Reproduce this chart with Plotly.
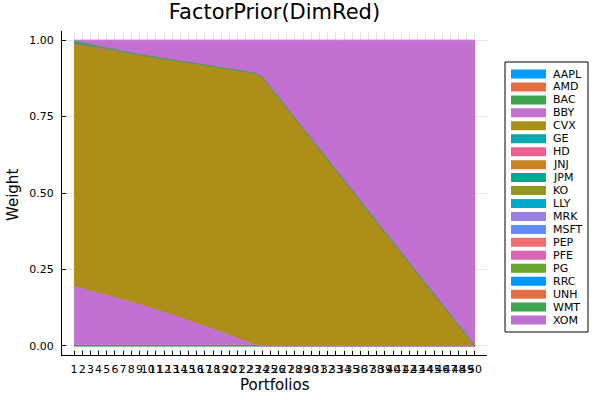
import plotly.graph_objects as go

# ---------------- data ----------------
portfolios = list(range(1, 51))
assets = ["AAPL", "AMD", "BAC", "BBY", "CVX", "GE", "HD", "JNJ", "JPM", "KO",
          "LLY", "MRK", "MSFT", "PEP", "PFE", "PG", "RRC", "UNH", "WMT", "XOM"]
colors = ["#009AFA", "#E36F47", "#3EA44E", "#C271D2", "#AC8E18", "#00A9AD",
          "#ED5E93", "#C68225", "#00A98D", "#8E971E", "#00A8CB", "#9B7FE9",
          "#618DF6", "#F16C6D", "#DD64B5", "#6AA32E", "#009AFA", "#E36F47",
          "#3EA44E", "#C271D2"]

bby = [0.194, 0.187, 0.180, 0.173, 0.166, 0.158, 0.151, 0.143, 0.135, 0.127,
       0.119, 0.110, 0.101, 0.092, 0.083, 0.074, 0.064, 0.054, 0.044, 0.034,
       0.024, 0.014, 0.005, 0.0, 0.0, 0.0, 0.0, 0.0, 0.0, 0.0,
       0.0, 0.0, 0.0, 0.0, 0.0, 0.0, 0.0, 0.0, 0.0, 0.0,
       0.0, 0.0, 0.0, 0.0, 0.0, 0.0, 0.0, 0.0, 0.0, 0.0]
cvx = [0.793, 0.796, 0.798, 0.801, 0.804, 0.808, 0.810, 0.814, 0.818, 0.822,
       0.825, 0.830, 0.835, 0.839, 0.844, 0.849, 0.855, 0.860, 0.866, 0.872,
       0.878, 0.883, 0.888, 0.880, 0.846, 0.812, 0.778, 0.745, 0.711, 0.677,
       0.643, 0.609, 0.575, 0.542, 0.508, 0.474, 0.440, 0.406, 0.372, 0.338,
       0.305, 0.271, 0.237, 0.203, 0.169, 0.135, 0.102, 0.068, 0.034, 0.000]
wmt = [0.010, 0.008, 0.006, 0.005, 0.004, 0.003, 0.002, 0.001, 0.0, 0.0,
       0.0, 0.0, 0.0, 0.0, 0.0, 0.0, 0.0, 0.0, 0.0, 0.0,
       0.0, 0.0, 0.0, 0.0, 0.0, 0.0, 0.0, 0.0, 0.0, 0.0,
       0.0, 0.0, 0.0, 0.0, 0.0, 0.0, 0.0, 0.0, 0.0, 0.0,
       0.0, 0.0, 0.0, 0.0, 0.0, 0.0, 0.0, 0.0, 0.0, 0.0]
xom = [0.003, 0.009, 0.016, 0.021, 0.026, 0.031, 0.037, 0.042, 0.047, 0.051,
       0.056, 0.060, 0.064, 0.069, 0.073, 0.077, 0.081, 0.086, 0.090, 0.094,
       0.098, 0.103, 0.107, 0.120, 0.154, 0.188, 0.222, 0.255, 0.289, 0.323,
       0.357, 0.391, 0.425, 0.458, 0.492, 0.526, 0.560, 0.594, 0.628, 0.662,
       0.695, 0.729, 0.763, 0.797, 0.831, 0.865, 0.898, 0.932, 0.966, 1.000]
zero = [0.0] * 50

weights = {a: zero for a in assets}
weights["BBY"] = bby
weights["CVX"] = cvx
weights["WMT"] = wmt
weights["XOM"] = xom

ytick_vals = [0.0, 0.25, 0.5, 0.75, 1.0]
ytick_text = ["0.00", "0.25", "0.50", "0.75", "1.00"]

# ---------------- layout geometry (pixels) ----------------
W, H = 600, 400
L, R, T, B = 62, 487, 31, 355
FONT = "DejaVu Sans"


def px(xp):
    return (xp - L) / (R - L)


def py(yp):
    return (B - yp) / (B - T)


fig = go.Figure()
for a, c in zip(assets, colors):
    fig.add_trace(go.Scatter(
        x=portfolios, y=weights[a], name=a, mode="lines",
        stackgroup="one", fillcolor=c,
        line=dict(color=c, width=1),
        showlegend=False,
    ))

# manual legend (Plots.jl style compact legend)
shapes = [dict(type="rect", xref="paper", yref="paper",
               x0=px(505), x1=px(588), y0=py(332), y1=py(62),
               line=dict(color="#000000", width=1), fillcolor="white",
               layer="above")]
annotations = []
for i, (a, c) in enumerate(zip(assets, colors)):
    yc = 74 + 12.95 * i
    shapes.append(dict(type="rect", xref="paper", yref="paper",
                       x0=px(511), x1=px(546), y0=py(yc + 4.5), y1=py(yc - 4.5),
                       line=dict(width=0), fillcolor=c, layer="above"))
    annotations.append(dict(xref="paper", yref="paper", x=px(551), y=py(yc),
                            text=a, showarrow=False, xanchor="left",
                            yanchor="middle",
                            font=dict(family=FONT, size=11, color="black")))

annotations.append(dict(xref="paper", yref="paper", x=0.5, y=py(385),
                        text="Portfolios", showarrow=False, xanchor="center",
                        yanchor="middle",
                        font=dict(family=FONT, size=15, color="black")))
annotations.append(dict(xref="paper", yref="paper", x=px(13), y=py(195),
                        text="Weight", showarrow=False, textangle=-90,
                        xanchor="center", yanchor="middle",
                        font=dict(family=FONT, size=15, color="black")))

fig.update_layout(
    width=W, height=H,
    margin=dict(l=L, r=W - R, t=T, b=H - B, pad=0),
    paper_bgcolor="white", plot_bgcolor="white",
    title=dict(text="FactorPrior(DimRed)", x=0.5, xref="paper",
               y=1 - 11.5 / H, yref="container", xanchor="center",
               yanchor="middle",
               font=dict(family=FONT, size=21, color="black")),
    font=dict(family=FONT, size=11, color="black"),
    shapes=shapes, annotations=annotations,
    showlegend=False,
)
fig.update_xaxes(
    range=[-0.47, 51.47], tickmode="array", tickvals=portfolios,
    ticktext=[str(p) for p in portfolios], tickangle=0,
    showline=True, linecolor="black", linewidth=1,
    ticks="inside", ticklen=4, tickcolor="black",
    ticklabelstandoff=4,
    showgrid=True, gridcolor="rgba(0,0,0,0.1)", gridwidth=0.5,
    zeroline=False, tickfont=dict(family=FONT, size=11, color="black"),
    mirror=False,
)
fig.update_yaxes(
    range=[-0.03, 1.03], tickmode="array", tickvals=ytick_vals,
    ticktext=ytick_text,
    showline=True, linecolor="black", linewidth=1,
    ticks="inside", ticklen=4, tickcolor="black",
    ticklabelstandoff=5,
    showgrid=True, gridcolor="rgba(0,0,0,0.1)", gridwidth=0.5,
    zeroline=False, tickfont=dict(family=FONT, size=11, color="black"),
    mirror=False,
)

fig.write_html("out.html",
               config={"displayModeBar": False},
               post_script="document.body.style.margin='0px';"
                           "document.body.style.padding='0px';")
